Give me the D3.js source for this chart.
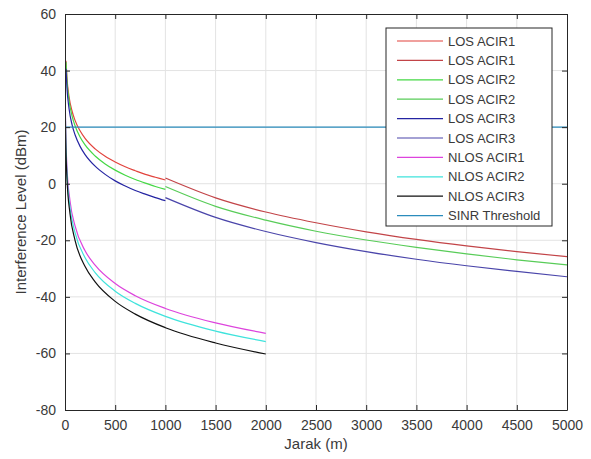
<!DOCTYPE html>
<html>
<head>
<meta charset="utf-8">
<script src="https://cdn.jsdelivr.net/npm/d3@7"></script>
<style>
  body { margin: 0; background: #fff; }
  text { font-family: "Liberation Sans", Arial, sans-serif; }
</style>
</head>
<body>
<script>
// distances (m) for each group of curves
const distLos1 = [10, 20, 40, 70, 100, 150, 200, 300, 400, 500, 600, 700, 800, 900, 1000];
const distLos2 = [1000, 1500, 2000, 2500, 3000, 3500, 4000, 4500, 5000];
const distNlos = [1, 2, 5, 10, 20, 50, 100, 200, 300, 500, 700, 1000, 1500, 2000];

// interference level (dBm)
const losAcir1a = [43.5, 37.1, 30.8, 25.7, 22.4, 18.7, 16.0, 12.3, 9.7, 7.7, 6.0, 4.6, 3.3, 2.3, 1.3];
const losAcir2a = [43.0, 36.2, 29.5, 24.0, 20.5, 16.5, 13.7, 9.8, 7.0, 4.8, 3.0, 1.5, 0.2, -1.0, -2.0];
const losAcir3a = [40.6, 33.6, 26.6, 20.9, 17.3, 13.2, 10.3, 6.2, 3.3, 1.0, -0.8, -2.4, -3.7, -4.9, -6.0];
const losAcir1b = [2.0, -5.0, -10.0, -13.8, -17.0, -19.7, -22.0, -24.0, -25.8];
const losAcir2b = [-1.0, -8.0, -12.9, -16.8, -19.9, -22.5, -24.8, -26.9, -28.7];
const losAcir3b = [-4.9, -11.9, -16.9, -20.8, -24.0, -26.7, -29.0, -31.0, -32.9];
const nlosAcir1 = [43.5, 34.7, 23.1, 14.3, 5.5, -6.1, -14.9, -23.7, -28.8, -35.3, -39.6, -44.1, -49.2, -52.9];
const nlosAcir2 = [41.9, 33.0, 21.2, 12.3, 3.4, -8.4, -17.3, -26.2, -31.4, -38.0, -42.3, -46.9, -52.1, -55.8];
const nlosAcir3 = [41.8, 32.5, 20.2, 10.9, 1.6, -10.7, -20.0, -29.3, -34.7, -41.6, -46.1, -50.9, -56.3, -60.2];
const sinrDist = [0, 5000];
const sinrThreshold = [20, 20];

const legendLabels = ['LOS ACIR1', 'LOS ACIR1', 'LOS ACIR2', 'LOS ACIR2', 'LOS ACIR3', 'LOS ACIR3',
                      'NLOS ACIR1', 'NLOS ACIR2', 'NLOS ACIR3', 'SINR Threshold'];
const xTicks = d3.range(0, 5001, 500);
const yTicks = d3.range(-80, 61, 20);

const series = [
  {x: distLos1, y: losAcir1a, color: '#e2433d'},
  {x: distLos2, y: losAcir1b, color: '#c24448'},
  {x: distLos1, y: losAcir2a, color: '#45d845'},
  {x: distLos2, y: losAcir2b, color: '#58cc58'},
  {x: distLos1, y: losAcir3a, color: '#2424a2'},
  {x: distLos2, y: losAcir3b, color: '#4a45aa'},
  {x: distNlos, y: nlosAcir1, color: '#dd44dd'},
  {x: distNlos, y: nlosAcir2, color: '#3fe3dc'},
  {x: distNlos, y: nlosAcir3, color: '#111111'},
  {x: sinrDist, y: sinrThreshold, color: '#2b8cbc'}
];

const W = 591, H = 459;
const LEFT = 65, RIGHT = 567, TOP = 14, BOTTOM = 410;
const TICK = 5;
const TEXT_COLOR = '#3a3a3a';

const svg = d3.select('body').append('svg')
  .attr('width', W)
  .attr('height', H);

const x = d3.scaleLinear().domain([0, 5000]).range([LEFT, RIGHT]);
const y = d3.scaleLinear().domain([-80, 60]).range([BOTTOM, TOP]);

// grid
svg.append('g').selectAll('line.vgrid')
  .data(xTicks.slice(1, -1))
  .enter().append('line')
    .attr('x1', d => x(d)).attr('x2', d => x(d))
    .attr('y1', TOP).attr('y2', BOTTOM)
    .attr('stroke', '#e3e3e3').attr('stroke-width', 1);
svg.append('g').selectAll('line.hgrid')
  .data(yTicks.slice(1, -1))
  .enter().append('line')
    .attr('x1', LEFT).attr('x2', RIGHT)
    .attr('y1', d => y(d)).attr('y2', d => y(d))
    .attr('stroke', '#e3e3e3').attr('stroke-width', 1);

// curves
svg.append('clipPath').attr('id', 'plot-clip')
  .append('rect').attr('x', LEFT).attr('y', TOP).attr('width', RIGHT - LEFT).attr('height', BOTTOM - TOP);

const line = d3.line()
  .x(d => x(d[0]))
  .y(d => y(d[1]))
  .curve(d3.curveMonotoneX);

svg.append('g').attr('clip-path', 'url(#plot-clip)')
  .selectAll('path')
  .data(series)
  .enter().append('path')
    .attr('d', s => line(s.x.map((d, i) => [d, s.y[i]])))
    .attr('fill', 'none')
    .attr('stroke', s => s.color)
    .attr('stroke-width', 1.2);

// axes, MATLAB style box with ticks inside on all sides
const plain = d => String(d);
svg.append('g').attr('transform', `translate(0,${BOTTOM})`)
  .call(d3.axisBottom(x).tickValues(xTicks).tickSize(-TICK).tickPadding(10).tickSizeOuter(0).tickFormat(plain));
svg.append('g').attr('transform', `translate(${LEFT},0)`)
  .call(d3.axisLeft(y).tickValues(yTicks).tickSize(-TICK).tickPadding(9).tickSizeOuter(0).tickFormat(plain));
svg.append('g').attr('transform', `translate(0,${TOP})`)
  .call(d3.axisTop(x).tickValues(xTicks).tickSize(-TICK).tickFormat('').tickSizeOuter(0));
svg.append('g').attr('transform', `translate(${RIGHT},0)`)
  .call(d3.axisRight(y).tickValues(yTicks).tickSize(-TICK).tickFormat('').tickSizeOuter(0));

svg.selectAll('.domain').attr('stroke', '#262626');
svg.selectAll('.tick line').attr('stroke', '#262626');
svg.selectAll('.tick text')
  .attr('font-family', '"Liberation Sans", Arial, sans-serif')
  .attr('font-size', '14px')
  .attr('fill', TEXT_COLOR);

// axis labels
svg.append('text')
  .attr('x', (LEFT + RIGHT) / 2).attr('y', 449)
  .attr('text-anchor', 'middle')
  .attr('font-size', '15px')
  .attr('fill', TEXT_COLOR)
  .text('Jarak (m)');
svg.append('text')
  .attr('transform', `translate(26,${(TOP + BOTTOM) / 2}) rotate(-90)`)
  .attr('text-anchor', 'middle')
  .attr('font-size', '15px')
  .attr('fill', TEXT_COLOR)
  .text('Interference Level (dBm)');

// legend
const LEG_X = 386, LEG_Y = 28, LEG_W = 166, LEG_H = 198, LEG_STEP = 19.4;
const legend = svg.append('g');
legend.append('rect')
  .attr('x', LEG_X).attr('y', LEG_Y)
  .attr('width', LEG_W).attr('height', LEG_H)
  .attr('fill', '#fff').attr('stroke', '#262626').attr('stroke-width', 1);
const items = legend.selectAll('g.item')
  .data(series)
  .enter().append('g')
    .attr('transform', (d, i) => `translate(0,${LEG_Y + 13 + i * LEG_STEP})`);
items.append('line')
  .attr('x1', LEG_X + 11).attr('x2', LEG_X + 57)
  .attr('stroke', d => d.color).attr('stroke-width', 1.2);
items.append('text')
  .attr('x', LEG_X + 62).attr('dy', '0.35em')
  .attr('font-size', '13px')
  .attr('fill', TEXT_COLOR)
  .text((d, i) => legendLabels[i]);
</script>
</body>
</html>
